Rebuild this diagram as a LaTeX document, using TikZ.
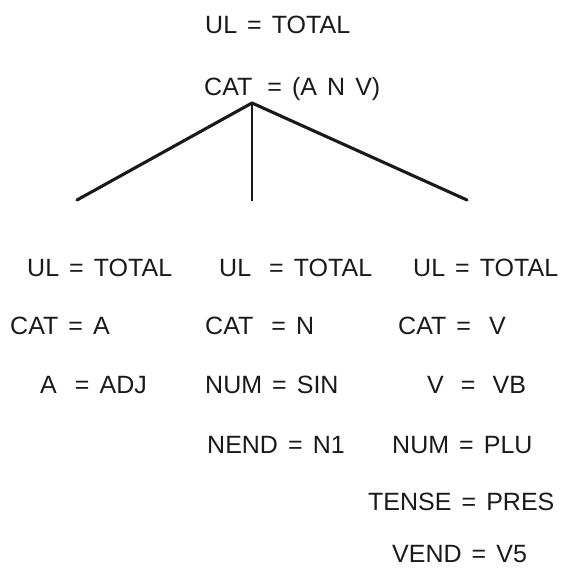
\documentclass[tikz,border=0pt]{standalone}
\usepackage{fontspec}
\setmainfont{Liberation Sans}[WordSpace=1.45]
\definecolor{ink}{HTML}{1A1A1A}
\newcommand{\xsp}{\hspace{8pt}}
\begin{document}
\begin{tikzpicture}[x=1pt,y=-1pt,
  lbl/.style={anchor=west, inner sep=0pt, text height=17.9pt, text depth=0pt,
    font=\fontsize{25}{30}\selectfont, text=ink},
  branch/.style={draw=ink, line width=3.1pt, line cap=round},
  stem/.style={draw=ink, line width=2pt}]
\useasboundingbox (0,0) rectangle (571,576);
% root
\node[lbl] (rul)  at (205,25) {UL = TOTAL};
\node[lbl] (rcat) at (204,87) {CAT\hspace{5pt} = (A N V)};
\coordinate (apex) at (252,103);
\coordinate (lend) at (77,200);
\coordinate (mend) at (252,201);
\coordinate (rend) at (467,200);
\draw[branch] (apex) -- (lend);
\draw[branch] (apex) -- (rend);
\draw[stem] (apex) -- (mend);
% column A
\node[lbl] (a1) at (27,268) {UL = TOTAL};
\node[lbl] (a2) at (10,326) {CAT = A};
\node[lbl] (a3) at (40,385) {A\xsp{} = ADJ};
% column N
\node[lbl] (n1) at (219,268) {UL\xsp{} = TOTAL};
\node[lbl] (n2) at (205,326) {CAT\xsp{} = N};
\node[lbl] (n3) at (205,385) {NUM = SIN};
\node[lbl] (n4) at (207,445) {NEND = N1};
% column V
\node[lbl] (v1) at (413,268) {UL = TOTAL};
\node[lbl] (v2) at (398,326) {CAT = \xsp{}V};
\node[lbl] (v3) at (427,385) {V\hspace{7pt} = \hspace{7pt}VB};
\node[lbl] (v4) at (392,445) {NUM = PLU};
\node[lbl] (v5) at (368,502) {TENSE = PRES};
\node[lbl] (v6) at (392,554) {VEND = V5};
\end{tikzpicture}
\end{document}
